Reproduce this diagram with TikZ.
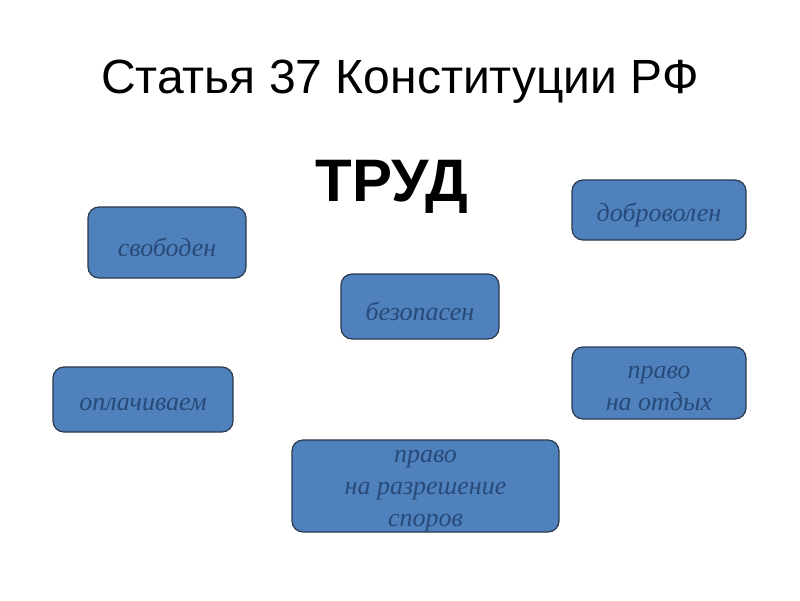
\documentclass[tikz,border=0pt]{standalone}
\usepackage{fontspec}
\setmainfont{Liberation Serif}
\setsansfont{Liberation Sans}
\usepackage{tikz}
\definecolor{boxfill}{HTML}{4F81BD}
\definecolor{boxline}{HTML}{2B3A4C}
\definecolor{boxtext}{HTML}{284A78}
\begin{document}
\begin{tikzpicture}[x=1pt,y=-1pt,
	box/.style={draw=boxline,fill=boxfill,line width=1.2pt,rounded corners=11pt,inner sep=0pt},
	boxlabel/.style={align=center,text=boxtext,font=\fontsize{26}{32}\selectfont\itshape,inner sep=0pt,yshift=-5pt}]
		\useasboundingbox[fill=white] (0,0) rectangle (800,600);
		
		% the title and the main word
		\node[font=\sffamily\fontsize{48}{54}\selectfont,anchor=base] (title) at (400,93) {Статья 37 Конституции РФ};
		\node[font=\sffamily\bfseries\fontsize{60}{64}\selectfont,anchor=base] (trud) at (392,201) {ТРУД};
		
		% the boxes
		\node[box,minimum width=158pt,minimum height=71pt,label={[boxlabel]center:свободен}] (svoboden) at (167,242.5) {};
		\node[box,minimum width=174pt,minimum height=60pt,label={[boxlabel]center:доброволен}] (dobrovolen) at (659,210) {};
		\node[box,minimum width=158pt,minimum height=65pt,label={[boxlabel]center:безопасен}] (bezopasen) at (420,306.5) {};
		\node[box,minimum width=180pt,minimum height=65pt,label={[boxlabel]center:оплачиваем}] (oplachivaem) at (143,399.5) {};
		\node[box,minimum width=174pt,minimum height=72pt,label={[boxlabel]center:{право\\на отдых}}] (otdykh) at (659,383) {};
		\node[box,minimum width=267pt,minimum height=92pt,label={[boxlabel]center:{право\\на разрешение\\споров}}] (spory) at (425.5,486) {};
		\end{tikzpicture}
\end{document}
